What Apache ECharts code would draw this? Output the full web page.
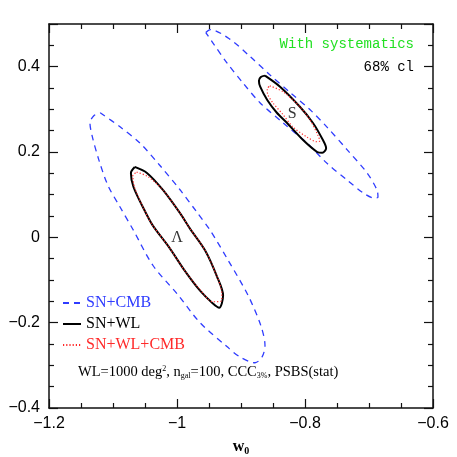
<!DOCTYPE html>
<html>
<head>
<meta charset="utf-8">
<script src="https://cdn.jsdelivr.net/npm/echarts@6/dist/echarts.min.js"></script>
<style>
  html, body { margin: 0; padding: 0; background: #fff; }
  #chart { width: 457px; height: 457px; }
</style>
</head>
<body>
<div id="chart"></div>
<script>
// axis ranges (w0 , w' = wa/2)
const xRange = [-1.2, -0.6]
const yRange = [-0.4, 0.5]
const tickStep = 0.2

// Lambda model contours [w0, w']
const lamCmb = [
  [-1.120, 0.292], [-1.089, 0.259], [-1.058, 0.221], [-1.027, 0.169], [-0.995, 0.111],
  [-0.969, 0.059], [-0.948, 0.016], [-0.920, -0.054], [-0.889, -0.136], [-0.869, -0.207],
  [-0.8625, -0.254], [-0.867, -0.280], [-0.878, -0.294], [-0.902, -0.280], [-0.922, -0.256],
  [-0.964, -0.200], [-1.000, -0.132], [-1.0375, -0.066], [-1.069, 0.019], [-1.089, 0.071],
  [-1.108, 0.122], [-1.122, 0.181], [-1.133, 0.240], [-1.136, 0.268], [-1.130, 0.285]
]
const lamWl = [
  [-1.066, 0.165], [-1.047, 0.151], [-1.022, 0.111], [-0.995, 0.056], [-0.980, 0.021],
  [-0.956, -0.031], [-0.9375, -0.092], [-0.928, -0.136], [-0.930, -0.155], [-0.934, -0.165],
  [-0.944, -0.155], [-0.964, -0.125], [-0.988, -0.078], [-1.012, -0.024], [-1.038, 0.028],
  [-1.051, 0.064], [-1.068, 0.118], [-1.072, 0.151]
]
const lamAll = [
  [-1.063, 0.153], [-1.045, 0.142], [-1.022, 0.111], [-0.995, 0.056], [-0.980, 0.021],
  [-0.956, -0.031], [-0.9375, -0.092], [-0.930, -0.132], [-0.930, -0.148], [-0.944, -0.151],
  [-0.964, -0.123], [-0.988, -0.078], [-1.012, -0.024], [-1.038, 0.028], [-1.051, 0.064],
  [-1.066, 0.116], [-1.069, 0.144]
]

// SUGRA model contours
const sugCmb = [
  [-0.955, 0.480], [-0.948, 0.487], [-0.917, 0.464], [-0.886, 0.424], [-0.855, 0.381],
  [-0.823, 0.339], [-0.792, 0.299], [-0.766, 0.259], [-0.734, 0.205], [-0.703, 0.151],
  [-0.6875, 0.111], [-0.686, 0.094], [-0.691, 0.092], [-0.709, 0.104], [-0.734, 0.134],
  [-0.766, 0.174], [-0.797, 0.221], [-0.834, 0.268], [-0.870, 0.315], [-0.897, 0.362],
  [-0.922, 0.409], [-0.944, 0.456]
]
const sugWl = [
  [-0.8625, 0.379], [-0.839, 0.353], [-0.808, 0.306], [-0.7875, 0.268], [-0.772, 0.228],
  [-0.767, 0.209], [-0.773, 0.198], [-0.781, 0.200], [-0.803, 0.228], [-0.828, 0.268],
  [-0.844, 0.292], [-0.859, 0.322], [-0.870, 0.353], [-0.872, 0.367], [-0.869, 0.376]
]
const sugAll = [
  [-0.855, 0.355], [-0.834, 0.341], [-0.808, 0.306], [-0.792, 0.275], [-0.780, 0.240],
  [-0.777, 0.226], [-0.781, 0.224], [-0.797, 0.235], [-0.819, 0.259], [-0.834, 0.287],
  [-0.850, 0.315], [-0.858, 0.334], [-0.859, 0.348]
]

// model labels
const modelLabels = [
  { name: 'Λ', value: [-1.0, 0.0] },
  { name: 'S', value: [-0.82, 0.29] }
]

const names = ['SN+CMB', 'SN+WL', 'SN+WL+CMB']
const colors = ['#2f3cff', '#000000', '#ff2a2a']

const closed = arr => arr.concat([arr[0]])
const minus = v => String(Math.round(v * 100) / 100).replace('-', '\u2212')

const styles = [
  { color: colors[0], width: 1.3, type: [6, 5] },
  { color: colors[1], width: 2 },
  { color: colors[2], width: 1.2, type: [1.2, 2] }
]

function contour (name, data, idx) {
  return {
    name: name,
    type: 'line',
    data: closed(data),
    symbol: 'none',
    smooth: 0.3,
    z: 2 + idx,
    lineStyle: styles[idx],
    itemStyle: { color: colors[idx] },
    silent: true
  }
}

function axisBase (pos, show) {
  return {
    type: 'value',
    position: pos,
    axisLine: { show: true, onZero: false, lineStyle: { color: '#111', width: 1.5 } },
    axisTick: { show: true, inside: true, length: 9, lineStyle: { color: '#111', width: 1.2 } },
    minorTick: { show: true, splitNumber: 4, length: 5, lineStyle: { color: '#111', width: 1.2 } },
    splitLine: { show: false },
    axisLabel: {
      show: show,
      color: '#000',
      fontFamily: 'Liberation Sans',
      fontSize: 16,
      formatter: minus
    }
  }
}

let myChart = echarts.init(document.getElementById('chart'))

let xMain = axisBase('bottom', true)
Object.assign(xMain, {
  min: xRange[0], max: xRange[1], interval: tickStep,
  name: '{w|w}{s|0}',
  nameLocation: 'middle',
  nameGap: 30,
  nameTextStyle: {
    rich: {
      w: { fontFamily: 'Liberation Serif', fontSize: 16, fontWeight: 'bold', color: '#000' },
      s: { fontFamily: 'Liberation Serif', fontSize: 10, fontWeight: 'bold', color: '#000', verticalAlign: 'bottom', padding: [8, 0, 0, 0] }
    }
  }
})
xMain.axisLabel.margin = 8
let xTop = axisBase('top', false)
Object.assign(xTop, { min: xRange[0], max: xRange[1], interval: tickStep })

let yMain = axisBase('left', true)
Object.assign(yMain, {
  min: yRange[0], max: yRange[1], interval: tickStep,
  name: "{w|w' = w}{s|a}{w|/2}",
  nameLocation: 'middle',
  nameGap: 36,
  nameRotate: 90,
  nameTextStyle: {
    rich: {
      w: { fontFamily: 'Liberation Serif', fontSize: 15, fontWeight: 'bold', color: '#000' },
      s: { fontFamily: 'Liberation Serif', fontSize: 10, fontWeight: 'bold', color: '#000', verticalAlign: 'bottom', padding: [7, 0, 0, 0] }
    }
  }
})
yMain.axisLabel.margin = 9
yMain.axisLabel.showMaxLabel = false
let yRight = axisBase('right', false)
Object.assign(yRight, { min: yRange[0], max: yRange[1], interval: tickStep })

myChart.setOption({
  animation: false,
  grid: { left: 49, right: 24, top: 24, bottom: 49, containLabel: false, outerBoundsMode: 'none' },
  xAxis: [xMain, xTop],
  yAxis: [yMain, yRight],
  legend: {
    orient: 'vertical',
    left: 57,
    top: 290,
    itemWidth: 18,
    itemHeight: 10,
    itemGap: 5,
    selectedMode: false,
    itemStyle: { opacity: 0 },
    textStyle: { fontFamily: 'Liberation Serif', fontSize: 16, lineHeight: 16 },
    data: names.map((n, i) => ({ name: n, textStyle: { color: colors[i] } }))
  },
  graphic: [
    {
      type: 'text', right: 43, top: 37,
      style: { text: 'With systematics', fill: '#22e022', font: '14px "Liberation Mono"' }
    },
    {
      type: 'text', right: 43, top: 60,
      style: { text: '68% cl', fill: '#000', font: '14px "Liberation Mono"' }
    },
    {
      type: 'text', left: 78, top: 365,
      style: {
        text: 'WL=1000 deg{sp|2}, n{sb|gal}=100, CCC{sb|3%}, PSBS(stat)',
        fill: '#000',
        font: '14.5px "Liberation Serif"',
        rich: {
          sp: { fontSize: 8, fontFamily: 'Liberation Serif', verticalAlign: 'top', padding: [0, 0, 6, 0] },
          sb: { fontSize: 8, fontFamily: 'Liberation Serif', verticalAlign: 'bottom', padding: [6, 0, 0, 0] }
        }
      }
    }
  ],
  series: [
    contour(names[0], lamCmb, 0),
    contour(names[0], sugCmb, 0),
    contour(names[1], lamWl, 1),
    contour(names[1], sugWl, 1),
    contour(names[2], lamAll, 2),
    contour(names[2], sugAll, 2),
    {
      name: 'labels',
      type: 'scatter',
      data: modelLabels,
      symbolSize: 0,
      silent: true,
      label: {
        show: true,
        position: 'inside',
        formatter: '{b}',
        color: '#000',
        fontFamily: 'Liberation Serif',
        fontSize: 16
      }
    }
  ]
})
</script>
</body>
</html>
